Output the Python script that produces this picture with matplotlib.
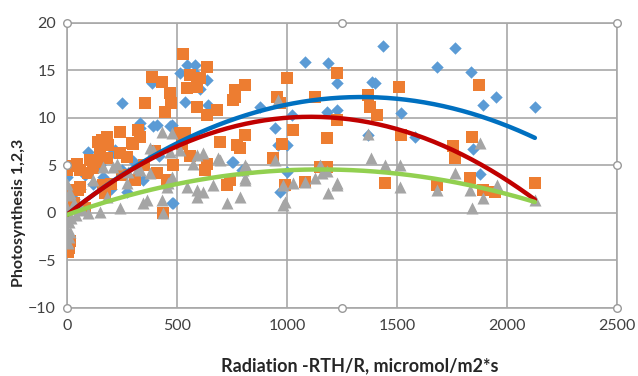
import numpy as np
import matplotlib
matplotlib.use('Agg')
import matplotlib.pyplot as plt

plt.rcParams['font.family'] = ['Lato', 'DejaVu Sans']

# Series 1 (blue diamonds)
blue_x = [1436, 1764, 1682, 1836, 1400, 1950, 1891, 2127, 1518, 1368, 1582, 1845, 1877,
          1082, 1186, 1227, 1227, 1182, 1386,
          582, 250, 636, 386, 605, 536, 332, 391, 468, 877, 945, 1023, 1000, 1000, 95, 0, 755, 795,
          959, 968, 545, 591, 514, 641, 477, 750, 482, 218, 164, 345,
          332, 409, 205, 173, 273, 477, 30, 60, 120, 250, 300, 420, 150, 80, 10, 5, 200]
blue_y = [17.6, 17.4, 15.4, 14.8, 13.7, 12.2, 11.4, 11.1, 10.5, 8.2, 8.0, 6.7, 4.1,
          15.9, 15.8, 13.7, 10.8, 10.6, 13.8,
          15.6, 11.6, 14.0, 13.7, 13.0, 11.7, 9.5, 9.2, 9.2, 11.2, 8.9, 10.3, 7.2, 4.3, 6.4, 3.8, 5.4, 4.5,
          7.2, 2.2, 15.6, 14.5, 14.7, 11.4, 9.3, 5.4, 1.0, 6.6, 3.8, 3.5,
          8.9, 9.3, 6.3, 3.5, 2.2, 1.0, 1.5, 2.5, 3.0, 4.5, 5.5, 6.0, 5.0, 4.0, 0.5, -0.8, 2.5]

# Series 2 (orange squares)
orange_x = [1368, 1509, 1873, 1377, 1409, 1518, 1755, 1764, 1841, 1445, 1682, 1832, 1891, 1945, 2127,
            1227, 1127, 1227, 1182,
            527, 636, 386, 432, 559, 591, 605, 468, 473, 355, 445, 591, 636, 682, 755, 809, 764, 809,
            773, 695, 1000, 968, 1027, 977, 936, 536, 523, 241, 182, 141, 300, 332, 45, 5, 114, 409,
            455, 627, 741,
            5, 59, 323, 159, 186, 295, 241, 273, 136, 59, 95, 50, 173, 10, 15,
            545, 764, 786, 636, 727, 955, 1150, 1182, 991, 1082, 150, 105, 118, 0, 182, 309, 164, 27,
            514, 436, 30, 80, 200, 250, 350, 400, 480, 560]
orange_y = [12.4, 13.3, 13.5, 11.1, 10.3, 8.2, 7.0, 5.8, 8.0, 3.1, 2.9, 3.7, 2.4, 2.2, 3.2,
            14.7, 12.2, 9.8, 7.9,
            16.7, 15.4, 14.3, 13.8, 14.5, 13.3, 14.2, 12.6, 11.6, 11.6, 10.6, 11.2, 10.3, 10.8, 11.9, 13.5, 12.2, 8.2,
            7.2, 7.5, 14.2, 11.6, 8.7, 7.3, 5.8, 8.4, 7.3, 8.5, 8.0, 7.5, 7.3, 8.0, 5.1, 4.9, 5.6, 4.2,
            3.5, 4.5, 3.5,
            -4.1, 2.7, 8.7, 7.7, 7.2, 7.4, 6.3, 5.9, 5.4, 4.5, 4.2, 2.4, 2.1, -3.7, -3.0,
            13.2, 12.9, 6.8, 5.2, 2.9, 12.2, 4.8, 4.8, 2.9, 3.3, 6.6, 5.6, 4.7, 4.5, 5.8, 3.5, 2.9, 2.4,
            8.4, 0.0, 1.0, 0.5, 3.0, 4.0, 5.0, 6.5, 5.0, 6.0]

# Series 3 (gray triangles)
gray_x = [1368, 1382, 1445, 1514, 1514, 1682, 1764, 1832, 1891, 1841, 1877, 1955, 2127,
          1227, 1159, 1127, 1082, 1227, 1186,
          959, 945, 1150, 1182, 1027, 982, 991,
          432, 477, 514, 591, 618, 573, 686, 809, 809, 477, 545, 591, 664, 727, 618, 459, 432, 800,
          818, 695, 377, 277, 164, 377, 323, 209, 5, 0, 0, 95,
          68, 150, 241, 345, 786, 982, 809,
          468, 391, 227, 332, 118, 273, 455, 591, 182, 364, 14, 59, 436,
          0, 5, 10, 10, 20, 0, 30, 40, 15]
gray_y = [8.3, 5.8, 5.0, 5.0, 2.7, 2.4, 4.2, 2.4, 1.6, 0.5, 7.4, 2.9, 1.4,
          3.2, 4.2, 3.7, 3.3, 2.9, 2.1,
          11.9, 5.6, 5.0, 4.4, 3.2, 2.9, 1.2,
          8.5, 8.4, 6.6, 6.1, 6.3, 5.2, 5.8, 5.0, 3.7, 3.8, 2.7, 1.7, 2.9, 1.0, 2.2, 3.2, 1.4, 4.5,
          4.7, 5.6, 4.2, 4.3, 4.8, 6.8, 4.7, 4.8, 1.9, -1.8, -0.4, 0.0,
          0.3, 0.1, 0.5, 1.0, 1.7, 0.8, 3.5,
          6.4, 6.6, 5.1, 4.5, 3.5, 3.2, 2.7, 2.4, 1.7, 1.4, 2.1, 0.6, 0.0,
          3.0, -3.2, -2.5, -1.0, -0.5, 0.5, 1.0, -0.2, -2.0]

# 2nd order polynomial trendlines
trend_blue = [-6.919e-6, 0.018525, -0.2]
trend_red = [-8.402e-6, 0.018624, -0.2]
trend_green = [-3.601e-6, 0.008295, -0.2]

x_ticks = [0, 500, 1000, 1500, 2000, 2500]
y_ticks = [-10, -5, 0, 5, 10, 15, 20]

grid_c = '#a8a8a8'
text_c = '#404040'

fig = plt.figure(figsize=(6.38, 3.76), dpi=100)
ax = fig.add_axes([0.105, 0.181, 0.862, 0.758])

ax.scatter(blue_x, blue_y, marker='D', s=40, color='#5B9BD5', zorder=3, linewidths=0)
ax.scatter(orange_x, orange_y, marker='s', s=68, color='#ED7D31', zorder=4, linewidths=0)
ax.scatter(gray_x, gray_y, marker='^', s=75, color='#A5A5A5', zorder=5, linewidths=0)

xmax = max(max(blue_x), max(orange_x), max(gray_x))
xt = np.linspace(0, xmax, 200)
ax.plot(xt, np.polyval(trend_blue, xt), color='#0070C0', lw=3.2, zorder=6, solid_capstyle='round')
ax.plot(xt, np.polyval(trend_red, xt), color='#C00000', lw=3.2, zorder=7, solid_capstyle='round')
ax.plot(xt, np.polyval(trend_green, xt), color='#92D050', lw=3.2, zorder=8, solid_capstyle='round')

ax.set_xlim(0, 2500)
ax.set_ylim(-10, 20)
ax.set_xticks(x_ticks)
ax.set_yticks(y_ticks)
ax.grid(True, color=grid_c, lw=1.2)
ax.set_axisbelow(True)
for s in ax.spines.values():
    s.set_color(grid_c)
    s.set_linewidth(1.2)
ax.tick_params(length=0, labelsize=11.5, labelcolor=text_c, pad=8)

ax.set_xlabel('Radiation -RTH/R, micromol/m2*s', fontsize=13, fontweight='bold',
              color='#262626')
ax.xaxis.set_label_coords(0.533, -0.172)
ax.set_ylabel('Photosynthesis 1,2,3', fontsize=11.5, fontweight='bold', color='#262626')
ax.yaxis.set_label_coords(-0.0745, 0.333)

# selection handles of the plot area
hx = [0, 0.5, 1, 1, 1, 0.5, 0, 0]
hy = [1, 1, 1, 0.5, 0, 0, 0, 0.5]
ax.scatter(hx, hy, transform=ax.transAxes, s=30, facecolor='white', edgecolor='#999999',
           linewidths=1, zorder=10, clip_on=False)

fig.savefig('out.png', dpi=100)
